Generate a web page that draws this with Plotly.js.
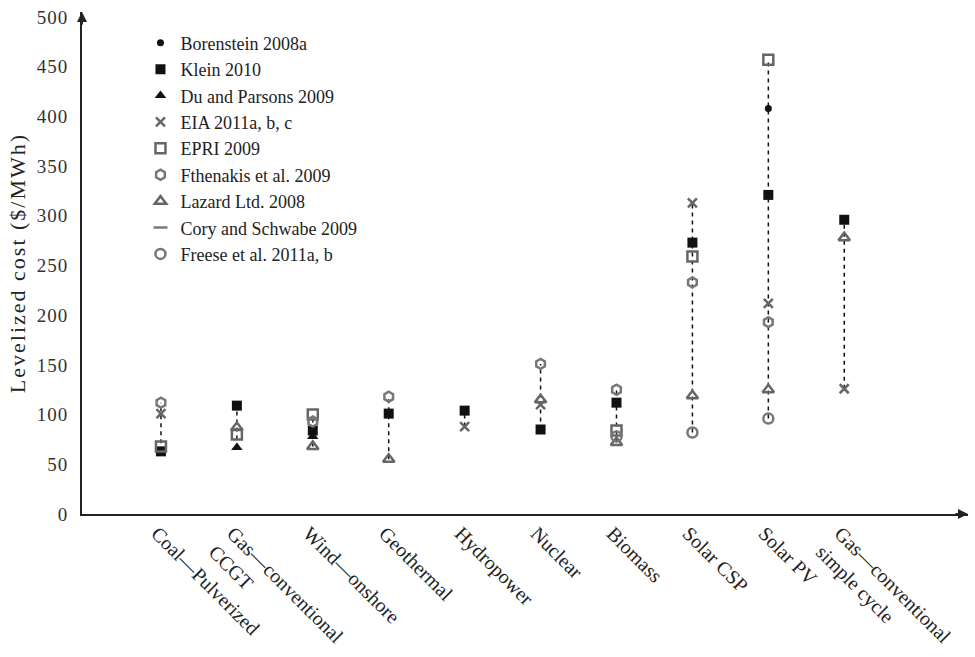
<!DOCTYPE html>
<html>
<head>
<meta charset="utf-8">
<script src="https://cdn.plot.ly/plotly-3.0.1.min.js"></script>
<style>
body{margin:0;background:#fff;}
#chart{width:975px;height:657px;}
#chart .ytick text{letter-spacing:1px;}
#chart .ytitle{letter-spacing:2px;}
</style>
</head>
<body>
<div id="chart"></div>
<script>
const categories = ["Coal—Pulverized", "Gas—conventional<br>CCGT", "Wind—onshore", "Geothermal", "Hydropower", "Nuclear", "Biomass", "Solar CSP", "Solar PV", "Gas—conventional<br>simple cycle"];

const borenstein = [null, null, null, null, null, null, null, null, 408, null];
const klein      = [63, 109, 84, 101, 104, 85, 112, 273, 321, 296];
const duParsons  = [null, 67, 78, null, null, null, null, null, null, null];
const eia        = [101, null, null, null, 88, 110, null, 313, 212, 126];
const epri       = [68, 80, 100, null, null, null, 84, 259, 457, null];
const fthenakis  = [112, null, 93, 118, null, 151, 125, 233, 193, null];
const lazard     = [null, 87, 68, 55, null, 115, 72, 119, 125, 278];
const cory       = [null, null, null, null, null, null, null, null, null, null];
const freese     = [null, null, null, null, null, null, 78, 82, 96, null];

const seriesNames = ["Borenstein 2008a", "Klein 2010", "Du and Parsons 2009", "EIA 2011a, b, c", "EPRI 2009", "Fthenakis et al. 2009", "Lazard Ltd. 2008", "Cory and Schwabe 2009", "Freese et al. 2011a, b"];
const seriesData = [borenstein, klein, duParsons, eia, epri, fthenakis, lazard, cory, freese];
const styles = [
  {symbol: "circle", size: 7, color: "#111", line: {width: 0}},
  {symbol: "square", size: 10, color: "#111", line: {width: 0}},
  {symbol: "triangle-up", size: 10, color: "#111", line: {width: 0}},
  {symbol: "x-thin-open", size: 9, color: "#666", line: {width: 2.5, color: "#666"}},
  {symbol: "square-open", size: 10, color: "#666", line: {width: 2.5, color: "#666"}},
  {symbol: "hexagon-open", size: 10, color: "#777", line: {width: 2.5, color: "#777"}},
  {symbol: "triangle-up-open", size: 10, color: "#666", line: {width: 2.5, color: "#666"}},
  {symbol: "line-ew-open", size: 10, color: "#777", line: {width: 2.5, color: "#777"}},
  {symbol: "circle-open", size: 10, color: "#777", line: {width: 2.5, color: "#777"}}
];

const traces = [];
categories.forEach((c, i) => {
  const vals = seriesData.map(s => s[i]).filter(v => v !== null);
  if (vals.length > 1) {
    traces.push({
      x: [c, c], y: [Math.min(...vals), Math.max(...vals)],
      mode: "lines", type: "scatter", showlegend: false, hoverinfo: "skip",
      line: {color: "#111", width: 1.5, dash: "4px,4px"}
    });
  }
});
seriesNames.forEach((n, k) => {
  traces.push({
    x: categories, y: seriesData[k], name: n, type: "scatter", mode: "markers",
    legendgroup: "g" + k, cliponaxis: false,
    marker: styles[k]
  });
});

const serif = "'Liberation Serif', 'Times New Roman', serif";
const layout = {
  width: 975, height: 657,
  margin: {l: 82, r: 7, t: 12, b: 143},
  paper_bgcolor: "#fff", plot_bgcolor: "#fff",
  font: {family: serif, color: "#222", size: 17},
  showlegend: true,
  legend: {x: 0.066, y: 0.975, xanchor: "left", yanchor: "top", bgcolor: "rgba(0,0,0,0)",
           font: {family: serif, size: 18, color: "#222"}, tracegroupgap: 0, itemwidth: 30},
  xaxis: {type: "category", range: [-1.04, 10.63], showgrid: false, zeroline: false,
          showline: true, linecolor: "#222", linewidth: 2, ticks: "", tickangle: 45,
          tickfont: {family: serif, size: 20, color: "#222"}, ticklabelshift: -4, ticklabelstandoff: -2,
          fixedrange: true},
  yaxis: {range: [0, 505], showgrid: false, zeroline: false, showline: true,
          linecolor: "#222", linewidth: 2, ticks: "", tickvals: [0, 50, 100, 150, 200, 250, 300, 350, 400, 450, 500],
          tickfont: {family: serif, size: 19, color: "#333"}, ticklabelstandoff: 8,
          title: {text: "Levelized cost ($/MWh)", font: {family: serif, size: 22, color: "#222"}, standoff: 8}},
  annotations: [
    {xref: "paper", yref: "paper", x: 0, y: 1, ax: 0, ay: 14, text: "", showarrow: true,
     arrowhead: 2, arrowsize: 1, arrowwidth: 2, arrowcolor: "#222"},
    {xref: "paper", yref: "paper", x: 1, y: 0, ax: -14, ay: 0, text: "", showarrow: true,
     arrowhead: 2, arrowsize: 1, arrowwidth: 2, arrowcolor: "#222"}
  ]
};
Plotly.newPlot("chart", traces, layout, {displayModeBar: false, staticPlot: true});
</script>
</body>
</html>
